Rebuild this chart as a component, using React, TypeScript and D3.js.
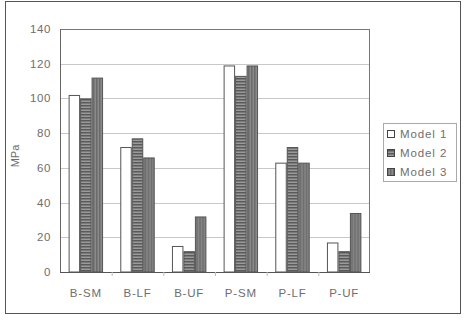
import React from "react";
import * as d3 from "d3";

const categories = ["B-SM", "B-LF", "B-UF", "P-SM", "P-LF", "P-UF"];
const seriesNames = ["Model 1", "Model 2", "Model 3"];
const model1 = [102, 72, 15, 119, 63, 17];
const model2 = [100, 77, 12, 113, 72, 12];
const model3 = [112, 66, 32, 119, 63, 34];
const yTicks = [0, 20, 40, 60, 80, 100, 120, 140];

const W = 464;
const H = 320;
const plot = { left: 60, right: 370, top: 29, bottom: 272 };
const font = "'Liberation Sans', Arial, sans-serif";
const textColor = "#6e6e6e";

export default function App() {
  const series = [model1, model2, model3];
  const x0 = d3
    .scaleBand<string>()
    .domain(categories)
    .range([plot.left, plot.right])
    .paddingInner(0)
    .paddingOuter(0);
  const gw = x0.bandwidth();
  const barW = gw / 4.5;
  const x1 = d3
    .scaleBand<string>()
    .domain(seriesNames)
    .range([(gw * 0.75) / 4.5, gw - (gw * 0.75) / 4.5])
    .padding(0);
  const y = d3.scaleLinear().domain([0, 140]).range([plot.bottom, plot.top]);
  const fills = ["#ffffff", "url(#hstripe)", "url(#vstripe)"];

  return (
    <svg
      width={W}
      height={H}
      style={{ position: "absolute", left: 0, top: 0, background: "#fff" }}
      fontFamily={font}
    >
      <defs>
        <pattern id="hstripe" width="4" height="3" patternUnits="userSpaceOnUse">
          <rect width="4" height="3" fill="#5a5a5a" />
          <rect y="1.5" width="4" height="1.5" fill="#9a9a9a" />
        </pattern>
        <pattern id="vstripe" width="3" height="4" patternUnits="userSpaceOnUse">
          <rect width="3" height="4" fill="#6a6a6a" />
          <rect x="1.5" width="1.5" height="4" fill="#8a8a8a" />
        </pattern>
      </defs>
      <rect x={0} y={0} width={W} height={H} fill="#fff" />
      <rect x={5.5} y={1.5} width={455} height={312} fill="none" stroke="#555" strokeWidth={1} />

      {yTicks.slice(1).map((t) => (
        <line
          key={"g" + t}
          x1={plot.left}
          x2={plot.right}
          y1={Math.round(y(t)) + 0.5}
          y2={Math.round(y(t)) + 0.5}
          stroke={t === 140 ? "#777" : "#c8c8c8"}
          strokeWidth={1}
        />
      ))}
      <line x1={plot.left + 0.5} x2={plot.left + 0.5} y1={plot.top} y2={plot.bottom} stroke="#666" />
      <line x1={plot.right - 0.5} x2={plot.right - 0.5} y1={plot.top} y2={plot.bottom} stroke="#777" />

      {categories.map((c, ci) => (
        <g key={c} transform={`translate(${x0(c)},0)`}>
          {series.map((s, si) => {
            const bx = x1(seriesNames[si]) as number;
            const top = y(s[ci]);
            return (
              <rect
                key={si}
                x={bx + 0.5}
                y={top + 0.5}
                width={barW - 1}
                height={plot.bottom - top - 0.5}
                fill={fills[si]}
                stroke="#555"
                strokeWidth={1}
              />
            );
          })}
        </g>
      ))}

      <line x1={plot.left} x2={plot.right} y1={plot.bottom + 0.5} y2={plot.bottom + 0.5} stroke="#555" />
      {categories.slice(1).map((c) => (
        <line
          key={"t" + c}
          x1={(x0(c) as number) + 0.5}
          x2={(x0(c) as number) + 0.5}
          y1={plot.bottom}
          y2={plot.bottom + 4}
          stroke="#bbb"
        />
      ))}

      {yTicks.map((t) => (
        <text
          key={"y" + t}
          x={51}
          y={y(t)}
          dy="0.35em"
          textAnchor="end"
          fontSize={11.5}
          letterSpacing={0.6}
          fill={textColor}
        >
          {t}
        </text>
      ))}
      {categories.map((c) => (
        <text
          key={"c" + c}
          x={(x0(c) as number) + gw / 2}
          y={293}
          dy="0.35em"
          textAnchor="middle"
          fontSize={11.5}
          letterSpacing={0.8}
          fill={textColor}
        >
          {c}
        </text>
      ))}
      <text
        transform="translate(15,156) rotate(-90)"
        textAnchor="middle"
        dy="0.35em"
        fontSize={11}
        fill={textColor}
      >
        MPa
      </text>

      <rect x={383.5} y={123.5} width={73} height={58} fill="#fff" stroke="#aaa" />
      {seriesNames.map((n, i) => (
        <g key={n} transform={`translate(387,${134 + i * 19})`}>
          <rect x={0.5} y={-3.5} width={7} height={7} fill={fills[i]} stroke="#444" />
          <text x={13} y={0} dy="0.35em" fontSize={11.5} letterSpacing={0.9} fill={textColor}>
            {n}
          </text>
        </g>
      ))}
    </svg>
  );
}
